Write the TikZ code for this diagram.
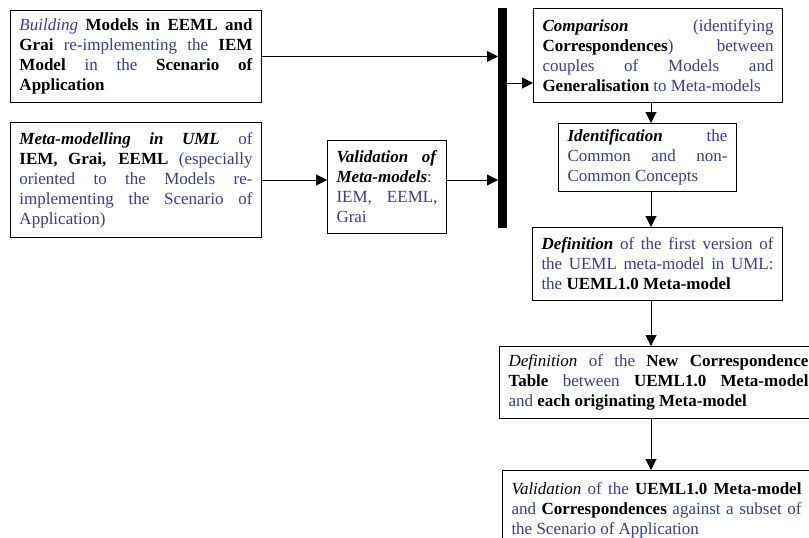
\documentclass[tikz,border=0pt]{standalone}
\usepackage{fontspec}
\setmainfont{Liberation Serif}
\usetikzlibrary{positioning, arrows.meta, calc}
\definecolor{txtblue}{RGB}{58,58,160}
\newcommand{\kb}[1]{\textcolor{black}{\textbf{#1}}}
\newcommand{\kbi}[1]{\textcolor{black}{\textbf{\textit{#1}}}}
\newcommand{\ki}[1]{\textcolor{black}{\textit{#1}}}
\tikzset{
  box/.style={draw, line width=1pt, anchor=north west, inner xsep=9pt, inner ysep=2pt, align=justify, text=txtblue, font=\fontsize{17}{20}\selectfont,
    execute at begin node={\tolerance=9999\relax\hyphenpenalty=10000\relax}},
  bar/.style={fill=black, inner sep=0pt, minimum width=9pt, minimum height=220pt, anchor=north west},
  flow/.style={line width=1pt, -{Triangle[length=11pt, width=11pt]}}
}

\begin{document}
\begin{tikzpicture}[x=1pt, y=-1pt]
  \useasboundingbox (0,0) rectangle (809,538);
  \clip (0,0) rectangle (809,538);
  % left column
  \node[box, text width=233pt, minimum height=92pt] (build) at (10,10) {\textit{Building} \kb{Models in EEML and}\linebreak \kb{Grai} re-implementing the \kb{IEM}\linebreak \kb{Model} in the \kb{Scenario of}\linebreak \kb{Application}};
  \node[box, text width=233pt, minimum height=115pt] (meta) at (10,122) {\kbi{Meta-modelling in UML} of\linebreak \kb{IEM, Grai, EEML} (especially\linebreak oriented to the Models re-\linebreak implementing the Scenario of\linebreak Application)};
  \node[box, text width=101pt, minimum height=93pt] (valmeta) at (327,140) {\kbi{Validation of}\linebreak \kbi{Meta-models}:\linebreak IEM, EEML,\linebreak Grai};
  % synchronisation bar
  \node[bar] (sync) at (498,8) {};
  % right column
  \node[box, text width=231pt, minimum height=94pt] (compare) at (533,8) {\kbi{Comparison} (identifying\linebreak \kb{Correspondences}) between\linebreak couples of Models and\linebreak \kb{Generalisation} to Meta-models};
  \node[box, text width=160pt, minimum height=68pt] (ident) at (558,123) {\kbi{Identification} the\linebreak Common and non-\linebreak Common Concepts};
  \node[box, text width=232pt, minimum height=73pt] (def1) at (532,227) {\kbi{Definition} of the first version of\linebreak the UEML meta-model in UML:\linebreak the \kb{UEML1.0 Meta-model}};
  \node[box, text width=300pt, minimum height=72pt] (def2) at (499,346) {\ki{Definition} of the \kb{New Correspondence}\linebreak \kb{Table} between \kb{UEML1.0 Meta-model}\linebreak and \kb{each originating Meta-model}};
  \node[box, text width=290pt, minimum height=80pt] (val2) at (502,470) {\ki{Validation} of the \kb{UEML1.0 Meta-model}\linebreak and \kb{Correspondences} against a subset of\linebreak the Scenario of Application};

  \coordinate (join) at (0,83);
  \coordinate (col) at (651,0);
  \draw[flow] (build.east) -- (build.east -| sync.west);
  \draw[flow] (meta.east) -- (meta.east -| valmeta.west);
  \draw[flow] (meta.east -| valmeta.east) -- (meta.east -| sync.west);
  \draw[flow] (join -| sync.east) -- (join -| compare.west);
  \draw[flow] (compare.south -| col) -- (ident.north -| col);
  \draw[flow] (ident.south -| col) -- (def1.north -| col);
  \draw[flow] (def1.south -| col) -- (def2.north -| col);
  \draw[flow] (def2.south -| col) -- (val2.north -| col);
\end{tikzpicture}
\end{document}
